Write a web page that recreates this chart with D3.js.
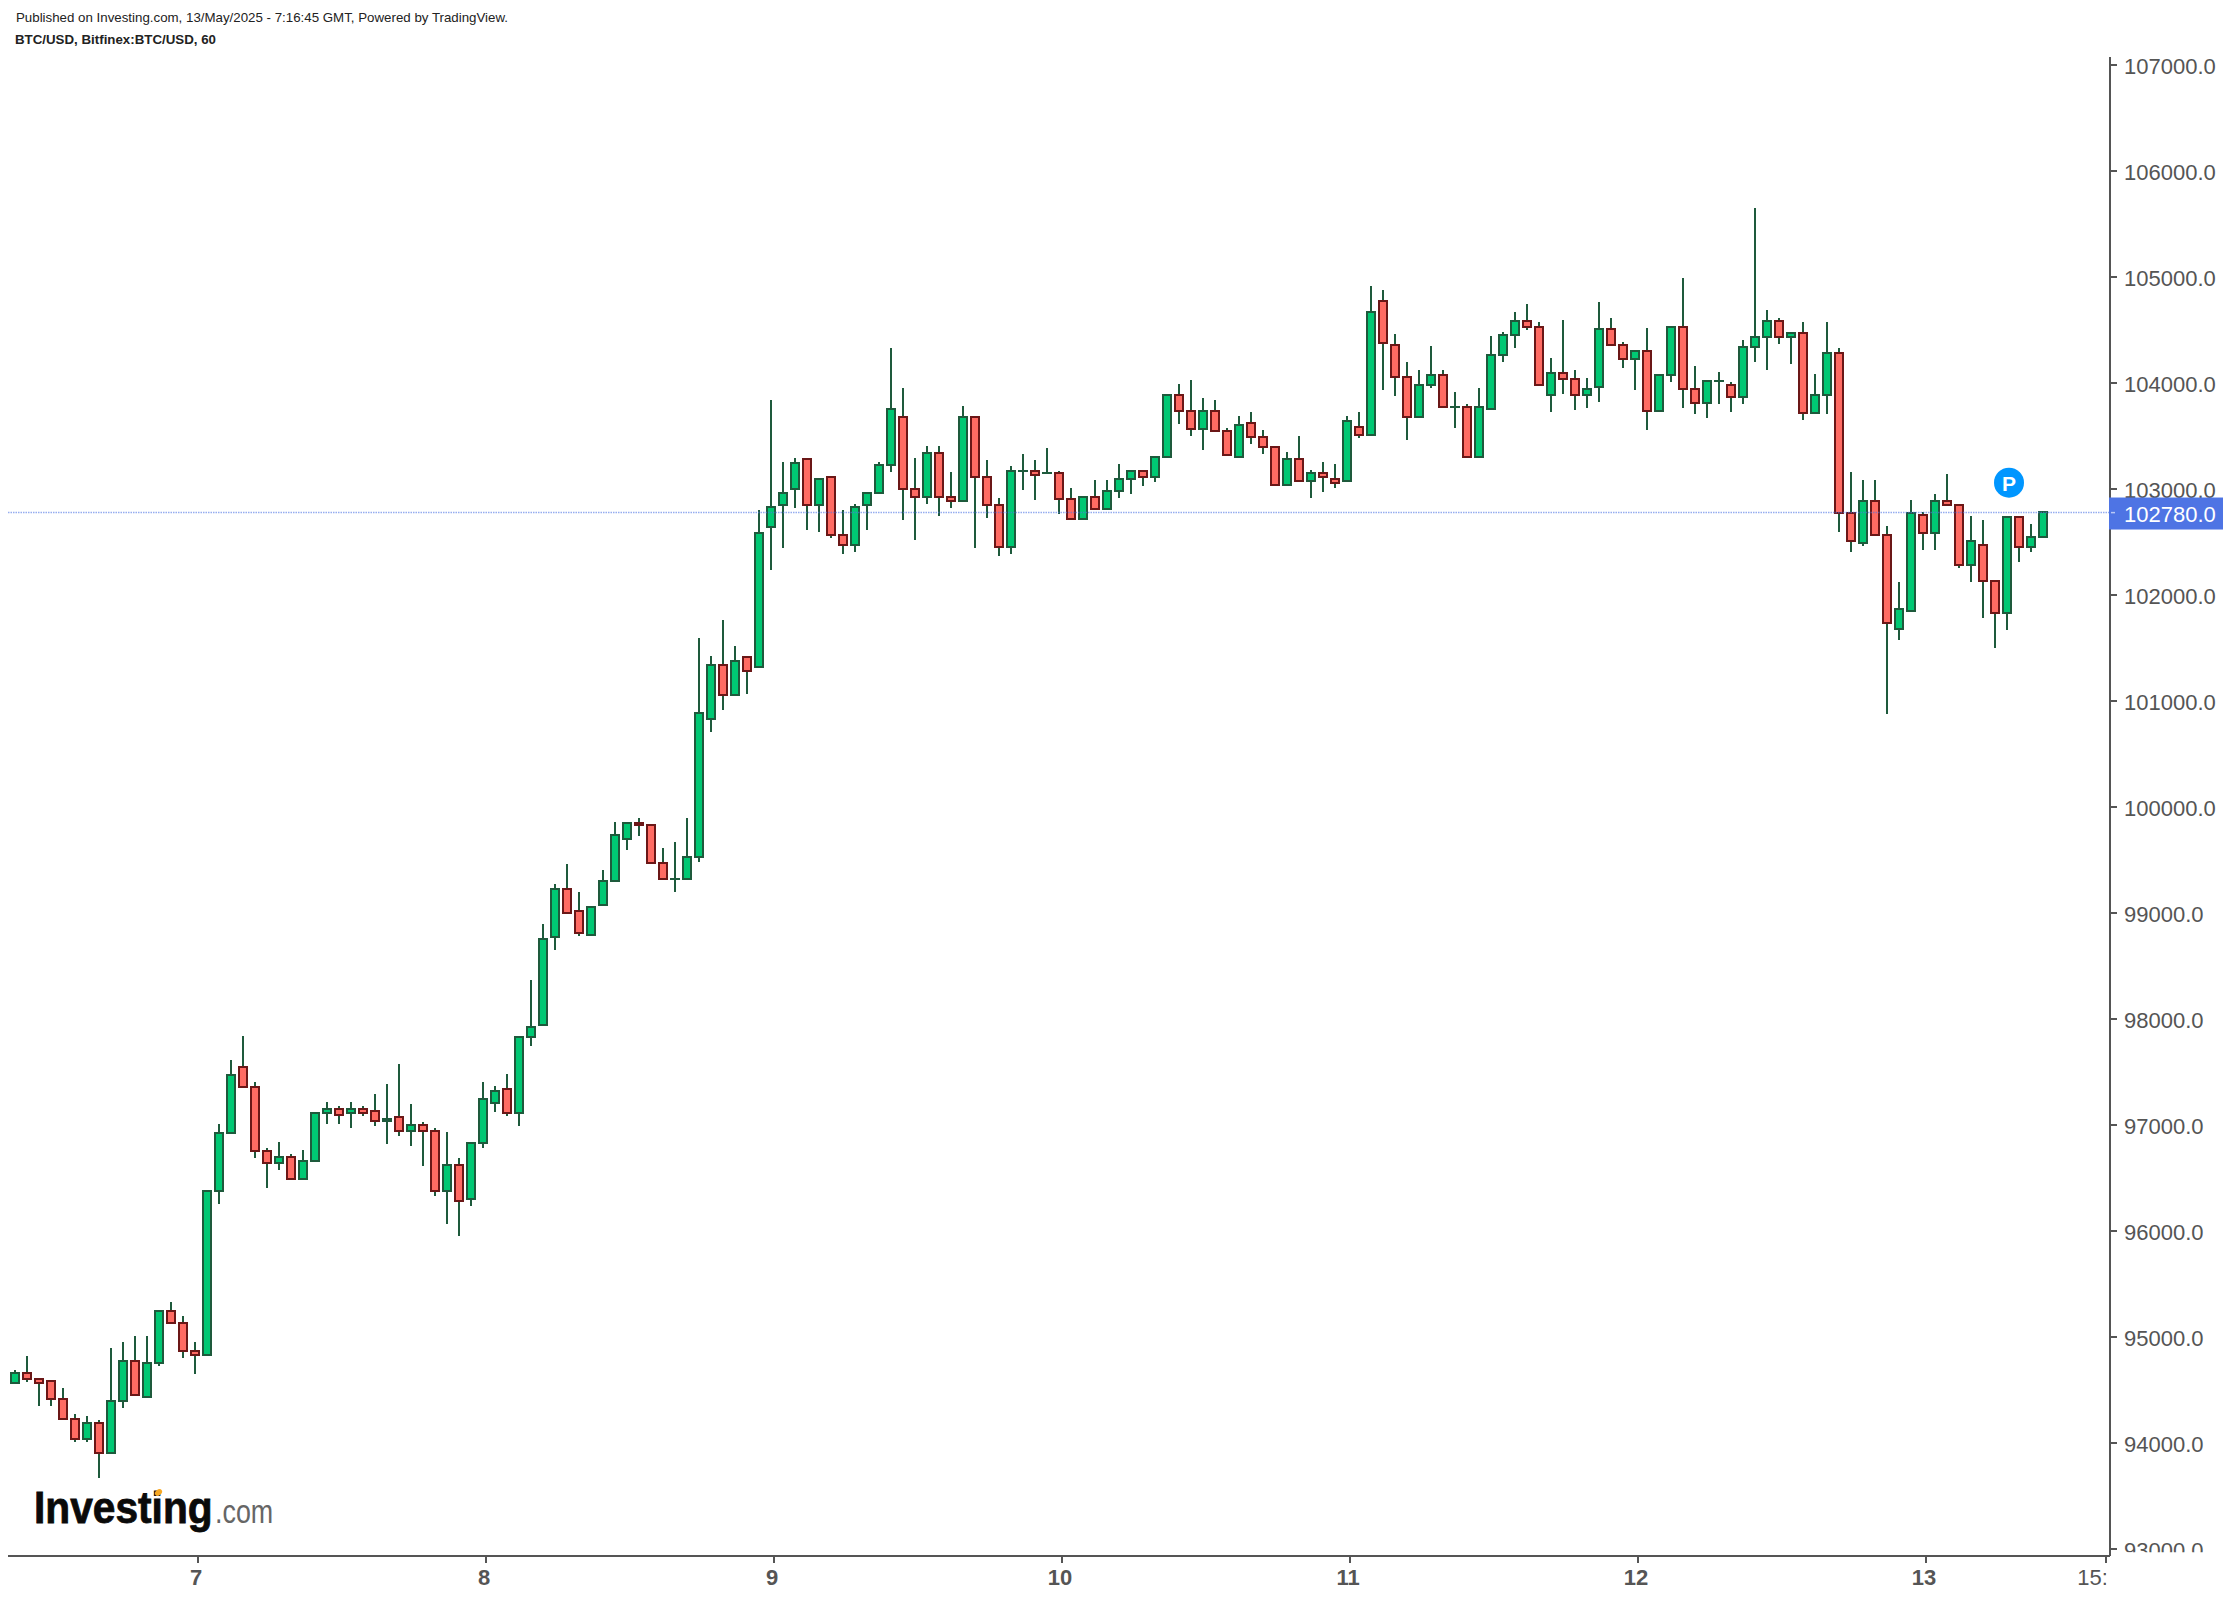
<!DOCTYPE html>
<html lang="en">
<head>
  <meta charset="UTF-8">
  <title>BTC/USD</title>
  <script src="https://d3js.org/d3.v7.min.js"></script>
  <style>
    body { margin: 0; background-color: white; font-family: "Liberation Sans", Arial, Helvetica, sans-serif; }
    svg { display: block; }
    .wick { stroke: #1e5a3c; stroke-width: 2px; shape-rendering: crispEdges; }
    .body { stroke-width: 2px; shape-rendering: crispEdges; }
    .up { fill: #00c873; stroke: #1e5a3c; }
    .down { fill: #ff6b63; stroke: #6b1717; }
    .axis path { display: none; }
    .axis line { stroke: #555; stroke-width: 2px; shape-rendering: crispEdges; }
    .axis text { fill: #555; font-size: 22px; font-family: "Liberation Sans", Arial, sans-serif; }
    .frame { stroke: #555; stroke-width: 2px; shape-rendering: crispEdges; }
  </style>
</head>
<body>

<svg id="svg" width="2230" height="1598"></svg>

<script>
const opens = [
  94560,94660,94604,94585,94415,94226,94031,94189,93899,94390,
  94774,94428,94748,95245,95132,94868,94824,96371,96918,97547,
  97358,96755,96635,96698,96484,96654,97107,97151,97107,97151,
  97132,97038,97075,96937,97000,96943,96371,96623,96295,96824,
  97201,97340,97107,97824,97937,98768,99227,99019,98787,99070,
  99296,99692,99849,99831,99472,99318,99315,99522,100824,101340,
  101050,101415,101321,102635,102843,102994,103283,102843,103113,102566,
  102465,102843,102956,103220,103679,103000,102918,103339,102924,102880,
  103679,103113,102849,102446,103167,103170,103148,103151,102905,102711,
  102924,102805,102975,103088,103170,103107,103295,103887,103737,103561,
  103737,103548,103296,103623,103491,103397,103032,103284,103070,103152,
  103095,103070,103586,103504,104774,104359,104057,103674,103976,104076,
  103771,103774,103296,103749,104259,104447,104586,104529,103881,104095,
  104039,103881,103957,104510,104359,104221,104303,103730,104070,104529,
  103944,103806,104016,103982,103862,104334,104428,104586,104428,104472,
  103711,103881,104284,102774,102485,102887,102567,101674,101843,102755,
  102579,102887,102850,102277,102472,102133,101825,102737,102447,102541
];
const highs = [
  94686,94818,94610,94585,94516,94270,94252,94214,94893,94950,
  95006,95006,95245,95327,95195,94950,96377,97006,97610,97836,
  97402,96780,96836,96723,96761,97113,97214,97176,97214,97176,
  97289,97384,97572,97195,97025,96968,96931,96685,96830,97402,
  97365,97478,97831,98365,98893,99271,99460,99195,99057,99403,
  99856,99849,99893,99831,99610,99667,99893,101591,101421,101761,
  101516,101415,102799,103836,103251,103289,103283,103094,103113,102799,
  102855,102962,103251,104327,103950,103289,103402,103402,103157,103780,
  103679,103270,102912,103214,103327,103270,103383,103170,103006,102924,
  103082,103082,103233,103170,103170,103302,103887,103988,104026,103856,
  103837,103573,103686,103724,103554,103397,103347,103498,103177,103252,
  103233,103686,103724,104913,104875,104460,104196,104120,104347,104120,
  103913,103800,103950,104441,104479,104667,104743,104573,104234,104592,
  104120,104045,104762,104611,104384,104303,104516,104076,104529,104988,
  104158,104020,104101,104007,104403,105649,104686,104611,104472,104573,
  104082,104573,104328,103158,103082,103082,102648,102120,102894,102781,
  102950,103139,102850,102743,102705,102133,102737,102737,102667,102780
];
const lows = [
  94560,94572,94346,94346,94220,94006,94006,93667,93899,94327,
  94447,94428,94723,95126,94799,94648,94824,96251,96918,97352,
  96685,96402,96572,96484,96484,96654,97006,97006,96968,97082,
  96987,96817,96893,96799,96610,96327,96063,95950,96233,96780,
  97119,97082,96988,97743,97937,98648,98994,98780,98787,99070,
  99296,99592,99724,99466,99315,99195,99315,99478,100704,100912,
  101050,101063,101321,102233,102440,102817,102610,102591,102534,102383,
  102402,102610,102956,103157,102704,102516,102855,102742,102817,102880,
  102440,102723,102365,102383,102987,102893,103148,102761,102711,102711,
  102805,102805,102912,102950,103025,103063,103295,103611,103498,103366,
  103542,103315,103296,103422,103328,103032,103032,103070,102913,102969,
  103007,103070,103479,103504,103932,103875,103460,103674,103950,103768,
  103573,103296,103296,103749,104196,104328,104498,103976,103724,103894,
  103743,103762,103818,104353,104139,103932,103554,103730,104007,103762,
  103705,103667,103799,103724,103799,104196,104120,104365,104177,103648,
  103711,103705,102592,102403,102460,102560,100875,101573,101843,102422,
  102422,102843,102252,102120,101780,101498,101667,102309,102403,102541
];
const closes = [
  94660,94598,94560,94409,94220,94031,94189,93899,94396,94774,
  94447,94755,95245,95126,94862,94824,96377,96924,97472,97352,
  96748,96635,96698,96484,96660,97113,97151,97088,97151,97107,
  97031,97056,96937,97000,96937,96371,96623,96277,96830,97245,
  97321,97107,97831,97925,98755,99227,98994,98805,99057,99302,
  99736,99849,99831,99466,99315,99321,99529,100887,101340,101050,
  101377,101277,102585,102830,102962,103245,102843,103094,102560,102465,
  102830,102962,103226,103755,102994,102918,103339,102918,102880,103679,
  103107,102843,102446,103170,103170,103126,103151,102899,102711,102924,
  102805,102981,103094,103170,103107,103302,103887,103730,103561,103737,
  103542,103315,103605,103485,103391,103032,103284,103070,103152,103108,
  103051,103642,103504,104664,104372,104051,103674,103982,104076,103768,
  103774,103296,103774,104265,104454,104586,104523,103976,104095,104032,
  103881,103944,104510,104353,104221,104303,103730,104076,104529,103938,
  103806,104020,104020,103862,104340,104435,104586,104428,104472,103711,
  103887,104284,102768,102504,102887,102560,101730,101869,102774,102579,
  102887,102843,102277,102510,102126,101825,102737,102447,102548,102780
];

const priceTicks = [93000,94000,95000,96000,97000,98000,99000,100000,101000,102000,103000,104000,105000,106000,107000];
const dateTicks = [15,39,63,87,111,135,159,174];
const dateLabels = ["7","8","9","10","11","12","13","15:00"];
const lastPrice = 102780;
const publishedText = "Published on Investing.com, 13/May/2025 - 7:16:45 GMT, Powered by TradingView.";
const symbolText = "BTC/USD, Bitfinex:BTC/USD, 60";

// Configuration
const axisX = 2110, axisY = 1556, plotLeft = 8, plotTop = 57;
const x = d3.scaleLinear().domain([0,169]).range([15,2043]);
const y = d3.scaleLinear().domain([93000,107000]).range([1548.7,64.7]);

const svg = d3.select("#svg");

const candles = d3.range(opens.length).map(i => ({
  i: i, o: opens[i], h: highs[i], l: lows[i], c: closes[i]
}));

// clips for the two labels that run past the chart box
svg.append("clipPath").attr("id", "yclipLocal")
  .append("rect").attr("x", 0).attr("y", -30).attr("width", 120).attr("height", 33);
svg.append("clipPath").attr("id", "xclipLocal")
  .append("rect").attr("x", -40).attr("y", 0).attr("width", 41).attr("height", 42);

// header
svg.append("text").attr("x", 16).attr("y", 22)
  .style("font-size", "13.3px").style("fill", "#222").text(publishedText);
svg.append("text").attr("x", 15).attr("y", 44)
  .style("font-size", "13.3px").style("font-weight", "bold").style("fill", "#222").text(symbolText);

// logo
svg.append("text").attr("transform", "translate(34,1523) scale(0.925,1)")
  .style("font-size", "44px").style("font-weight", "bold").style("fill", "#0a0a0a")
  .style("stroke", "#0a0a0a").style("stroke-width", "0.8px").text("Investing");
svg.append("text").attr("transform", "translate(215,1523) scale(0.79,1)")
  .style("font-size", "34px").style("fill", "#666").text(".com");
svg.append("ellipse").attr("cx", 158.5).attr("cy", 1492.5).attr("rx", 4).attr("ry", 2.8)
  .attr("transform", "rotate(-40 158.5 1492.5)").attr("fill", "#f7a823");

// wicks
svg.selectAll(".wick")
  .data(candles)
  .join("line")
  .attr("class", "wick")
  .attr("x1", d => x(d.i))
  .attr("x2", d => x(d.i))
  .attr("y1", d => y(d.h))
  .attr("y2", d => y(d.l));

// bodies
svg.selectAll(".body")
  .data(candles)
  .join("rect")
  .attr("class", d => "body " + (d.c >= d.o ? "up" : "down"))
  .attr("x", d => x(d.i)-4)
  .attr("width", 8)
  .attr("y", d => y(Math.max(d.o,d.c)))
  .attr("height", d => Math.abs(y(d.o)-y(d.c)));

// last price line
svg.append("line")
  .attr("x1", plotLeft).attr("x2", axisX)
  .attr("y1", y(lastPrice)+0.6).attr("y2", y(lastPrice)+0.6)
  .attr("stroke", "#4e74e4").attr("stroke-opacity", 0.6)
  .attr("stroke-width", 1.5).attr("stroke-dasharray", "1.5 1");

// axes
svg.append("g")
  .attr("class", "axis")
  .attr("transform", `translate(${axisX},0)`)
  .call(d3.axisRight(y).tickValues(priceTicks).tickFormat(d => d.toFixed(1)).tickSize(7).tickPadding(7))
  .selectAll("text").attr("dy", "0.42em");

const xAxis = d3.axisBottom(x).tickValues(dateTicks).tickFormat((d,i) => dateLabels[i]).tickSize(7).tickPadding(6);
svg.append("g")
  .attr("class", "axis")
  .attr("transform", `translate(2,${axisY})`)
  .call(xAxis)
  .selectAll("text")
  .attr("dx", (d,i) => i < 7 ? -1.5 : -0.7)
  .style("font-weight", (d,i) => i < 7 ? "bold" : "normal");

svg.selectAll(".axis .tick text")
  .filter(d => d === 93000)
  .attr("clip-path", "url(#yclipLocal)");
svg.selectAll(".axis .tick text")
  .filter(d => d === 174)
  .attr("clip-path", "url(#xclipLocal)");

// frame lines
svg.append("line").attr("class", "frame")
  .attr("x1", plotLeft).attr("x2", axisX).attr("y1", axisY).attr("y2", axisY);
svg.append("line").attr("class", "frame")
  .attr("x1", axisX).attr("x2", axisX).attr("y1", plotTop).attr("y2", axisY);

// price tag
svg.append("rect")
  .attr("x", axisX-1).attr("y", y(lastPrice)-14.5).attr("width", 114).attr("height", 32)
  .attr("fill", "#4e74e4");
svg.append("line")
  .attr("x1", axisX+1).attr("x2", axisX+5).attr("y1", y(lastPrice)+0.6).attr("y2", y(lastPrice)+0.6)
  .attr("stroke", "#b9c8f5").attr("stroke-width", 1.5);
svg.append("text")
  .attr("x", axisX+14).attr("y", y(lastPrice)+9.5)
  .style("font-size", "22px").style("fill", "white").text(lastPrice.toFixed(1));

// P badge
svg.append("circle").attr("cx", 2009).attr("cy", 482.7).attr("r", 15).attr("fill", "#0096ff");
svg.append("text").attr("x", 2009).attr("y", 490.5).attr("text-anchor", "middle")
  .style("font-size", "21px").style("font-weight", "bold").style("fill", "white").text("P");
</script>

</body>
</html>
